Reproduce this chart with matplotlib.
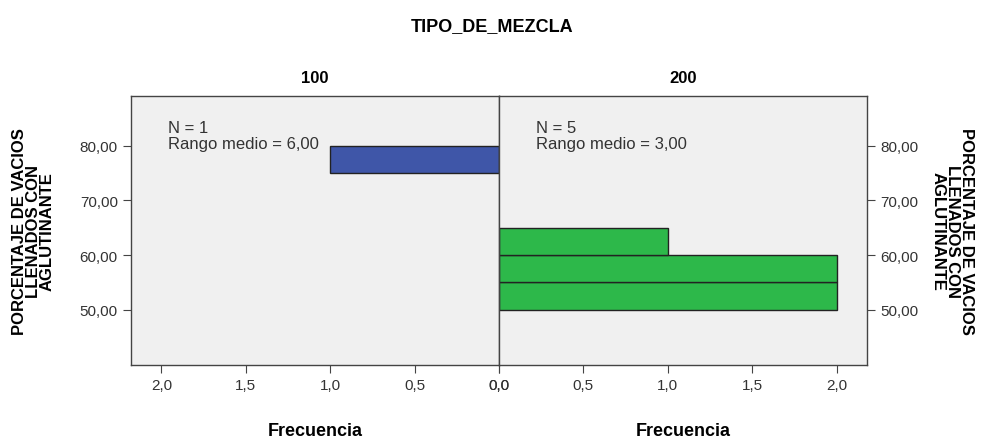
import numpy as np
import matplotlib
matplotlib.use("Agg")
import matplotlib.pyplot as plt

# datos: histograma por grupo (limites inferiores de las clases y frecuencias)
grupos = ["100", "200"]
clases_100 = [75.0]
frec_100 = [1]
clases_200 = [50.0, 55.0, 60.0]
frec_200 = [2, 2, 1]
ancho_clase = 5.0
n_grupos = [1, 5]
rango_medio = ["6,00", "3,00"]
yticks = [50, 60, 70, 80]
xticks = [0.0, 0.5, 1.0, 1.5, 2.0]

plt.rcParams['font.family'] = ['Liberation Sans', 'DejaVu Sans']

fig = plt.figure(figsize=(9.85, 4.39), dpi=100)
ax1 = fig.add_axes([131/985, 1-366/439, 368/985, 269/439])
ax2 = fig.add_axes([499/985, 1-366/439, 368/985, 269/439])

fondo = "#f0f0f0"
for ax in (ax1, ax2):
    ax.set_facecolor(fondo)
    ax.set_ylim(39.9, 89.1)
    ax.set_xlim(0, 2.18)
    ax.set_yticks(yticks)
    ax.set_xticks(xticks)
    ax.set_xticklabels([("%.1f" % v).replace(".", ",") for v in xticks])
    ax.tick_params(axis="x", direction="out", length=6, color="#444444",
                   labelsize=11, labelcolor="#333333", pad=3)
    ax.tick_params(axis="y", direction="out", length=6, color="#444444",
                   labelsize=11, labelcolor="#333333")
    for s in ax.spines.values():
        s.set_color("#444444")
        s.set_linewidth(1.0)
    ax.set_xlabel("Frecuencia", fontsize=13, fontweight="bold", labelpad=22)

ax1.invert_xaxis()
ax1.barh(clases_100, frec_100, height=ancho_clase, align="edge",
         color="#3f56a8", edgecolor="#222222", linewidth=1.0, zorder=2)
ax2.barh(clases_200, frec_200, height=ancho_clase, align="edge",
         color="#2db84a", edgecolor="#222222", linewidth=1.0, zorder=2)

ax1.set_yticklabels([("%.2f" % v).replace(".", ",") for v in yticks])
ax2.yaxis.tick_right()
ax2.set_yticklabels([("%.2f" % v).replace(".", ",") for v in yticks])
ax2.yaxis.set_label_position("right")

ylab = "PORCENTAJE DE VACIOS\nLLENADOS CON\nAGLUTINANTE"
ax1.set_ylabel(ylab, fontsize=12, fontweight="bold", linespacing=0.92,
               labelpad=18)
ax2.set_ylabel(ylab, fontsize=12, fontweight="bold", linespacing=0.92,
               rotation=-90, labelpad=40)

ax1.set_title(grupos[0], fontsize=12, fontweight="bold", pad=10)
ax2.set_title(grupos[1], fontsize=12, fontweight="bold", pad=10)

ax1.text(0.1, 0.91, "N = %d\nRango medio = %s" % (n_grupos[0], rango_medio[0]),
         transform=ax1.transAxes, ha="left", va="top", fontsize=12,
         color="#333333", linespacing=1.05, zorder=3)
ax2.text(0.1, 0.91, "N = %d\nRango medio = %s" % (n_grupos[1], rango_medio[1]),
         transform=ax2.transAxes, ha="left", va="top", fontsize=12,
         color="#333333", linespacing=1.05, zorder=3)

fig.text(0.5, 1-27/439, "TIPO_DE_MEZCLA", ha="center", va="center",
         fontsize=13, fontweight="bold")

fig.savefig("out.png", dpi=100)
